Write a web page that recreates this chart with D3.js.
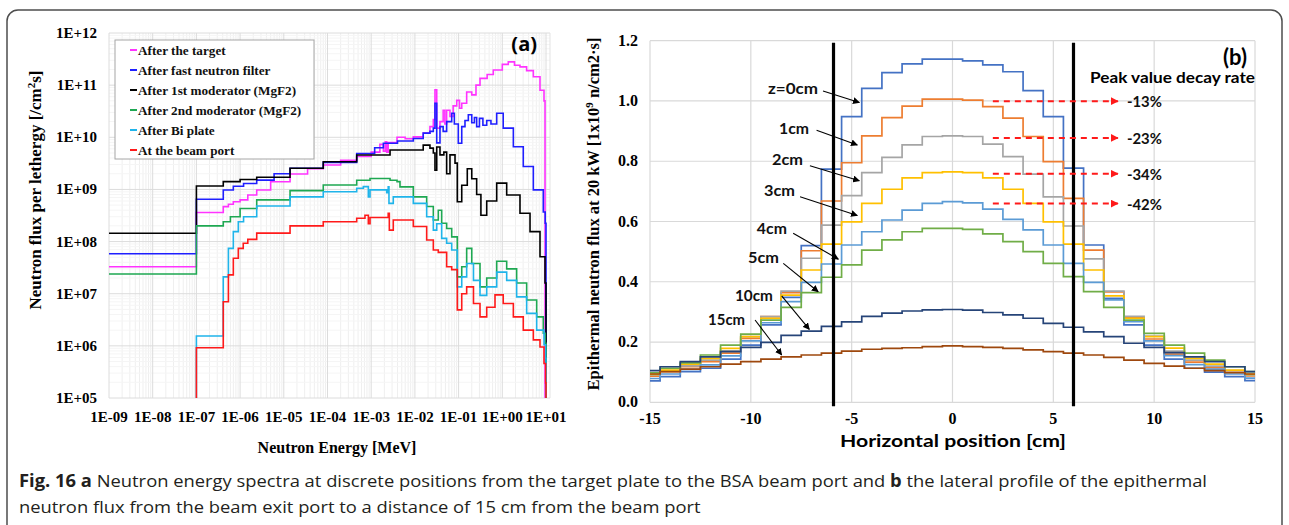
<!DOCTYPE html>
<html><head><meta charset="utf-8">
<script src="https://cdn.jsdelivr.net/npm/d3@7"></script>
<style>body{margin:0;background:#fff;} svg{display:block;}</style>
</head><body><svg id="c" width="1289" height="525"></svg>
<script>
// ================= Panel (a) data =================
const energyTicks = [1e-9,1e-8,1e-7,1e-6,1e-5,1e-4,1e-3,1e-2,1e-1,1e0,1e1];
const energyTickLabels = ["1E-09","1E-08","1E-07","1E-06","1E-05","1E-04","1E-03","1E-02","1E-01","1E+00","1E+01"];
const fluxTicks = [1e5,1e6,1e7,1e8,1e9,1e10,1e11,1e12];
const fluxTickLabels = ["1E+05","1E+06","1E+07","1E+08","1E+09","1E+10","1E+11","1E+12"];
const seriesNamesA = ["After the target","After fast neutron filter","After 1st moderator (MgF2)","After 2nd moderator (MgF2)","After Bi plate","At the beam port"];

// [energy MeV, flux /cm2s]
const afterTarget = [[1e-9,3.3e7],[1e-7,3.6e8],[4.12e-7,4.67e8],[5.4e-7,5.2e8],[7e-7,5.8e8],[1e-6,6.3e8],[1.5e-6,7.8e8],[2.4e-6,9.75e8],[5e-6,1.4e9],[1.39e-5,1.98e9],[3.5e-5,2.5e9],[8e-5,2.95e9],[2e-4,3.6e9],[4.66e-4,4.27e9],[1e-3,5.2e9],[1.58e-3,7.3e9],[1.9e-3,5.4e9],[2.1e-3,8.2e9],[2.26e-3,5.2e9],[2.45e-3,7.9e9],[3.9e-3,1.0e10],[6e-3,9.4e9],[9.2e-3,1.02e10],[0.0155,1.2e10],[0.0221,1.6e10],[0.0264,2.2e10],[0.0288,8.1e10],[0.0316,1.5e10],[0.0375,2.0e10],[0.0443,3.3e10],[0.0485,1.8e10],[0.0533,3.3e10],[0.0635,2.5e10],[0.075,4.0e10],[0.0906,5.1e10],[0.105,3.6e10],[0.118,4.5e10],[0.153,7.4e10],[0.2,6.5e10],[0.25,1.0e11],[0.309,1.35e11],[0.45,1.6e11],[0.622,1.95e11],[1.0,2.5e11],[1.37,2.8e11],[1.9,2.4e11],[2.54,2.24e11],[3.6,1.9e11],[5.13,1.45e11],[7.29,8e10],[9.0,5e10],[9.5,1e5]];
const afterFilter = [[1e-9,5.85e7],[1e-7,6.5e8],[4.12e-7,9.75e8],[7e-7,1.15e9],[1.2e-6,1.3e9],[2.4e-6,1.51e9],[6e-6,2.0e9],[1.39e-5,2.54e9],[8e-5,3.3e9],[4.66e-4,4.9e9],[1.2e-3,6.3e9],[1.9e-3,7.7e9],[4e-3,8.5e9],[9.2e-3,9.5e9],[0.0155,1.2e10],[0.0221,1.3e10],[0.0264,1.5e10],[0.0288,4.5e10],[0.0316,7.8e9],[0.0375,1.6e10],[0.0443,1.3e10],[0.0533,2.0e10],[0.0695,2.9e10],[0.08,1.8e10],[0.0984,7.7e9],[0.118,1.6e10],[0.14,2.1e10],[0.167,2.7e10],[0.2,1.9e10],[0.23,2.4e10],[0.259,1.6e10],[0.3,2.3e10],[0.36,1.7e10],[0.44,2.1e10],[0.55,1.8e10],[0.745,2.9e10],[1.05,1.5e10],[1.79,6.6e9],[3.02,2.75e9],[5.13,9.8e8],[8.67,3.7e8],[9.6,2.24e8],[10,1e5]];
const afterMod1 = [[1e-9,1.44e8],[1e-7,1.16e9],[4.12e-7,1.41e9],[1e-6,1.55e9],[2.4e-6,1.71e9],[1.39e-5,2.54e9],[8e-5,3.4e9],[4.66e-4,4.57e9],[2.7e-3,5.7e9],[0.0155,7.08e9],[0.0221,6.2e9],[0.0264,5.0e9],[0.0288,2.34e9],[0.0316,6.5e9],[0.0375,4.6e9],[0.046,5.2e9],[0.0533,2.0e9],[0.0635,4.6e9],[0.0828,3.2e9],[0.0933,5.8e8],[0.118,1.2e9],[0.158,2.5e9],[0.2,1.6e9],[0.259,8e8],[0.324,3.2e8],[0.44,6e8],[0.745,1.32e9],[1.26,7.8e8],[2.54,3.5e8],[4.31,1.55e8],[7.29,5.1e7],[9.49,1.6e7],[10,1e5]];
const afterMod2 = [[1e-9,2.39e7],[1e-7,2.0e8],[4.12e-7,2.4e8],[6e-7,3e8],[1e-6,4.3e8],[2.4e-6,6.3e8],[1.39e-5,9.5e8],[8e-5,1.22e9],[4.66e-4,1.5e9],[9.4e-4,1.62e9],[2.7e-3,1.5e9],[3.9e-3,1.41e9],[4.56e-3,1.12e9],[9.2e-3,7.2e8],[0.0186,4.7e8],[0.0264,2.6e8],[0.0343,4e8],[0.041,2.24e8],[0.0533,1.78e8],[0.0695,1.23e8],[0.0933,2.1e7],[0.118,3.3e7],[0.153,7.4e7],[0.2,3.8e7],[0.309,1.35e7],[0.44,2e7],[0.745,4.2e7],[1.26,3e7],[2.13,1.6e7],[3.61,7.6e6],[6.12,3.6e6],[8.67,1.74e6],[9.6,1.12e6],[10,1e5]];
const afterBi = [[1e-7,1e5],[1e-7,1.55e6],[4.12e-7,2.1e7],[5.4e-7,7.4e7],[7e-7,1.55e8],[9.1e-7,2.4e8],[1.2e-6,3e8],[2.4e-6,4.8e8],[1.39e-5,7.2e8],[8e-5,9.0e8],[4.66e-4,1.05e9],[6.6e-4,1.13e9],[8.6e-4,7.2e8],[9.4e-4,9.8e8],[2.26e-3,8.7e8],[2.45e-3,1.12e9],[2.55e-3,5.4e8],[3.2e-3,7.2e8],[9.2e-3,5.4e8],[0.0186,3.0e8],[0.0264,1.66e8],[0.0316,2.2e8],[0.041,1.15e8],[0.0533,9.3e7],[0.0695,6.9e7],[0.0933,1.35e7],[0.118,2.1e7],[0.153,3.8e7],[0.219,1.8e7],[0.309,9.3e6],[0.44,1.35e7],[0.745,2.6e7],[1.26,1.8e7],[2.13,8.7e6],[3.61,4.2e6],[6.12,2e6],[9.0,1.05e6],[9.8,5.8e5],[10,1e5]];
const beamPort = [[1e-7,1e5],[1e-7,9.2e5],[4.12e-7,7e6],[5.4e-7,2.3e7],[7e-7,4.8e7],[9.1e-7,7.4e7],[1.18e-6,9.3e7],[1.5e-6,1.1e8],[2.4e-6,1.45e8],[1.39e-5,2.0e8],[8e-5,2.4e8],[4.66e-4,2.8e8],[7.2e-4,3.2e8],[8.6e-4,2.2e8],[9.4e-4,2.9e8],[2.45e-3,3.5e8],[2.6e-3,1.66e8],[3.2e-3,2.6e8],[9.2e-3,1.95e8],[0.0186,1.07e8],[0.0264,6.9e7],[0.0343,6.2e7],[0.0533,3.3e7],[0.0695,2.9e7],[0.0933,4.9e6],[0.118,1.0e7],[0.153,1.35e7],[0.219,6.5e6],[0.309,3.6e6],[0.44,5.5e6],[0.681,9.5e6],[1.05,6.5e6],[1.79,3.6e6],[3.02,2e6],[5.13,1.3e6],[7.29,9.5e5],[9.0,4.6e5],[9.8,1.95e5],[10,1e5]];
const seriesA = [afterTarget, afterFilter, afterMod1, afterMod2, afterBi, beamPort];
const colorsA = ["#ff33ff","#1f1fff","#000000","#1ea852","#1fb4ea","#ff1a1a"];

// ================= Panel (b) data =================
const positions = d3.range(-15, 16); // -15 .. 15 cm
const positionTicks = [-15,-10,-5,0,5,10,15];
const profileTicks = [0,0.2,0.4,0.6,0.8,1.0,1.2];
const profileNames = ["z=0cm","1cm","2cm","3cm","4cm","5cm","10cm","15cm"];
const z0cm  = [0.071,0.085,0.102,0.113,0.143,0.190,0.257,0.348,0.520,0.774,0.948,1.042,1.094,1.123,1.139,1.139,1.133,1.120,1.097,1.034,0.948,0.777,0.522,0.345,0.257,0.190,0.143,0.113,0.100,0.085,0.072];
const z1cm  = [0.087,0.102,0.118,0.135,0.163,0.212,0.284,0.364,0.503,0.668,0.795,0.884,0.945,0.983,1.006,1.006,1.003,0.981,0.943,0.882,0.799,0.677,0.505,0.366,0.280,0.210,0.160,0.133,0.115,0.100,0.088];
const z2cm  = [0.090,0.105,0.121,0.140,0.171,0.218,0.284,0.369,0.478,0.588,0.686,0.762,0.813,0.854,0.882,0.884,0.882,0.857,0.815,0.757,0.682,0.585,0.476,0.369,0.285,0.220,0.170,0.140,0.120,0.105,0.090];
const z3cm  = [0.093,0.107,0.127,0.146,0.179,0.218,0.279,0.356,0.439,0.525,0.599,0.660,0.707,0.745,0.762,0.765,0.762,0.745,0.707,0.660,0.599,0.525,0.439,0.353,0.279,0.218,0.180,0.146,0.127,0.107,0.093];
const z4cm  = [0.079,0.094,0.109,0.124,0.154,0.204,0.264,0.334,0.398,0.459,0.522,0.566,0.605,0.638,0.660,0.666,0.662,0.641,0.607,0.572,0.522,0.461,0.398,0.340,0.268,0.204,0.155,0.125,0.110,0.094,0.080];
const z5cm  = [0.098,0.113,0.131,0.157,0.190,0.226,0.273,0.315,0.364,0.415,0.456,0.505,0.539,0.566,0.577,0.577,0.574,0.559,0.533,0.500,0.461,0.417,0.367,0.315,0.273,0.229,0.190,0.163,0.140,0.118,0.102];
const z10cm = [0.105,0.118,0.135,0.151,0.168,0.182,0.199,0.222,0.236,0.252,0.267,0.285,0.296,0.303,0.307,0.308,0.306,0.298,0.290,0.279,0.262,0.249,0.234,0.218,0.196,0.182,0.165,0.151,0.135,0.118,0.102];
const z15cm = [0.094,0.102,0.110,0.118,0.127,0.135,0.143,0.151,0.157,0.163,0.170,0.176,0.179,0.181,0.185,0.187,0.185,0.182,0.179,0.174,0.168,0.163,0.157,0.149,0.140,0.129,0.120,0.113,0.105,0.098,0.094];
const profiles = [z0cm, z1cm, z2cm, z3cm, z4cm, z5cm, z10cm, z15cm];
const colorsB = ["#4472c4","#ed7d31","#a5a5a5","#ffc000","#5b9bd5","#70ad47","#264478","#9e480e"];
const boundaryLines = [-5.9, 6];
const decayRates = ["-13%","-23%","-34%","-42%"]; // for 1,2,3,4 cm

// ================= Drawing =================
const svg = d3.select("#c");
const SERIF = "'Liberation Serif','Times New Roman',serif";
const SANS = "Lato,'Open Sans',sans-serif";

const defs = svg.append("defs");
defs.append("marker").attr("id","arrK").attr("viewBox","0 0 10 10").attr("refX",9).attr("refY",5)
  .attr("markerWidth",7).attr("markerHeight",7).attr("markerUnits","userSpaceOnUse").attr("orient","auto")
  .append("path").attr("d","M0,0 L10,5 L0,10 z").attr("fill","#000");
defs.append("marker").attr("id","arrR").attr("viewBox","0 0 10 10").attr("refX",9).attr("refY",5)
  .attr("markerWidth",8).attr("markerHeight",8).attr("markerUnits","userSpaceOnUse").attr("orient","auto")
  .append("path").attr("d","M0,0 L10,5 L0,10 z").attr("fill","#ff1a1a");

// Outer frame
svg.append("rect").attr("x",7).attr("y",10).attr("width",1275).attr("height",540).attr("rx",11)
  .attr("fill","none").attr("stroke","#4d4d4d").attr("stroke-width",1.5);

// ---------- Panel (a) ----------
const xA = d3.scaleLog().domain([1e-9,10]).range([109,546]);
const yA = d3.scaleLog().domain([1e5,1e12]).range([398,33]);
const gA = svg.append("g");
const minorE = [];
for (let d=-9; d<1; d++) for (let m=2;m<10;m++) minorE.push(m*Math.pow(10,d));
gA.selectAll(".mnx").data(minorE).join("line").attr("x1",d=>xA(d)).attr("x2",d=>xA(d))
  .attr("y1",yA(1e12)).attr("y2",yA(1e5)).attr("stroke","#efefef").attr("stroke-width",1);
const minorF = [];
for (let d=5; d<12; d++) for (let m=2;m<10;m++) minorF.push(m*Math.pow(10,d));
gA.selectAll(".mny").data(minorF).join("line").attr("y1",d=>yA(d)).attr("y2",d=>yA(d))
  .attr("x1",xA(1e-9)).attr("x2",550).attr("stroke","#f5f5f5").attr("stroke-width",1);
gA.selectAll(".mjx").data(energyTicks).join("line").attr("x1",d=>xA(d)).attr("x2",d=>xA(d))
  .attr("y1",yA(1e12)).attr("y2",yA(1e5)).attr("stroke","#dcdcdc").attr("stroke-width",1);
gA.selectAll(".mjy").data(fluxTicks).join("line").attr("y1",d=>yA(d)).attr("y2",d=>yA(d))
  .attr("x1",xA(1e-9)).attr("x2",550).attr("stroke","#dcdcdc").attr("stroke-width",1);
gA.append("line").attr("x1",550).attr("x2",550).attr("y1",yA(1e12)).attr("y2",yA(1e5)).attr("stroke","#e3e3e3");

const lineA = d3.line().x(d=>xA(d[0])).y(d=>yA(d[1])).curve(d3.curveStepAfter);
seriesA.forEach((s,i)=>{
  gA.append("path").attr("d",lineA(s)).attr("fill","none").attr("stroke",colorsA[i])
    .attr("stroke-width",1.6).attr("stroke-linejoin","miter");
});

// axes text
gA.selectAll(".xtl").data(energyTicks).join("text").attr("x",d=>xA(d)).attr("y",422)
  .attr("text-anchor","middle").attr("font-family",SERIF).attr("font-weight","bold").attr("font-size",15)
  .text((d,i)=>energyTickLabels[i]);
gA.selectAll(".ytl").data(fluxTicks).join("text").attr("x",97).attr("y",d=>yA(d)+5)
  .attr("text-anchor","end").attr("font-family",SERIF).attr("font-weight","bold").attr("font-size",15)
  .text((d,i)=>fluxTickLabels[i]);
gA.append("text").attr("x",337).attr("y",453).attr("text-anchor","middle").attr("font-family",SERIF)
  .attr("font-weight","bold").attr("font-size",16).text("Neutron Energy [MeV]");
const yta = gA.append("text").attr("transform","translate(41,190) rotate(-90)").attr("text-anchor","middle")
  .attr("font-family",SERIF).attr("font-weight","bold").attr("font-size",17);
yta.append("tspan").text("Neutron flux per lethergy [/cm");
yta.append("tspan").attr("dy",-6).attr("font-size",11).text("2");
yta.append("tspan").attr("dy",6).text("s]");
gA.append("text").attr("x",537).attr("y",51).attr("text-anchor","end").attr("font-family","'Open Sans',sans-serif")
  .attr("font-weight","bold").attr("font-size",20).text("(a)");

// legend
const lg = gA.append("g");
lg.append("rect").attr("x",115).attr("y",40).attr("width",199).attr("height",119)
  .attr("fill","#fff").attr("stroke","#a6a6a6").attr("stroke-width",1);
seriesNamesA.forEach((n,i)=>{
  const y = 50 + i*20;
  lg.append("line").attr("x1",130).attr("x2",137).attr("y1",y).attr("y2",y).attr("stroke",colorsA[i]).attr("stroke-width",2);
  lg.append("text").attr("x",138).attr("y",y+4.5).attr("font-family",SERIF).attr("font-weight","bold")
    .attr("font-size",13.2).attr("fill","#111").text(n);
});

// ---------- Panel (b) ----------
const xB = d3.scaleLinear().domain([-15,15]).range([650,1255]);
const yB = d3.scaleLinear().domain([0,1.2]).range([402.3,40.7]);
const gB = svg.append("g");
gB.selectAll(".gx").data(positionTicks).join("line").attr("x1",d=>xB(d)).attr("x2",d=>xB(d))
  .attr("y1",yB(1.2)).attr("y2",yB(0)).attr("stroke","#d9d9d9").attr("stroke-width",1.2);
gB.selectAll(".gy").data(profileTicks).join("line").attr("y1",d=>yB(d)).attr("y2",d=>yB(d))
  .attr("x1",xB(-15)).attr("x2",xB(15)).attr("stroke","#d9d9d9").attr("stroke-width",1.2);

const lineB = d3.line().x((d,i)=>xB(positions[i])).y(d=>yB(d)).curve(d3.curveStep);
profiles.forEach((p,i)=>{
  gB.append("path").attr("d",lineB(p)).attr("fill","none").attr("stroke",colorsB[i]).attr("stroke-width",1.7);
});
gB.selectAll(".bl").data(boundaryLines).join("line").attr("x1",d=>xB(d)).attr("x2",d=>xB(d))
  .attr("y1",yB(1.2)+2).attr("y2",yB(0)+4).attr("stroke","#000").attr("stroke-width",3.2);

gB.selectAll(".xtb").data(positionTicks).join("text").attr("x",d=>xB(d)).attr("y",424)
  .attr("text-anchor","middle").attr("font-family",SERIF).attr("font-weight","bold").attr("font-size",16).text(d=>d);
gB.selectAll(".ytb").data(profileTicks).join("text").attr("x",638).attr("y",d=>yB(d)+5)
  .attr("text-anchor","end").attr("font-family",SERIF).attr("font-weight","bold").attr("font-size",16).text(d=>d.toFixed(1));
gB.append("text").attr("x",953).attr("y",447).attr("text-anchor","middle").attr("font-family",SANS)
  .attr("font-weight","bold").attr("font-size",17.5).attr("textLength",226).attr("lengthAdjust","spacingAndGlyphs")
  .text("Horizontal position [cm]");
const ytb = gB.append("text").attr("transform","translate(599,214) rotate(-90)").attr("text-anchor","middle")
  .attr("font-family",SERIF).attr("font-weight","bold").attr("font-size",16.5);
ytb.append("tspan").text("Epithermal neutron flux at 20 kW [1x10");
ytb.append("tspan").attr("dy",-6).attr("font-size",11).text("9");
ytb.append("tspan").attr("dy",6).text(" n/cm2·s]");

gB.append("text").attr("x",1247).attr("y",65).attr("text-anchor","end").attr("font-family",SANS)
  .attr("font-weight","bold").attr("font-size",22).text("(b)");
gB.append("text").attr("x",1090).attr("y",83).attr("font-family",SANS).attr("font-weight","bold")
  .attr("font-size",15).attr("textLength",165).attr("lengthAdjust","spacingAndGlyphs").text("Peak value decay rate");

// curve labels with arrows (label anchor, arrow start, arrow end in data units)
const labelLayout = [
  {t:[-9.15,1.023], w:50, a:[-6.42,1.033], b:[-4.62,0.995]},
  {t:[-8.60,0.890], w:30, a:[-6.74,0.903], b:[-4.72,0.854]},
  {t:[-8.95,0.788], w:31, a:[-7.07,0.785], b:[-4.62,0.735]},
  {t:[-9.35,0.685], w:31, a:[-7.56,0.682], b:[-4.72,0.620]},
  {t:[-9.70,0.559], w:30, a:[-7.90,0.561], b:[-5.66,0.475]},
  {t:[-10.14,0.462], w:31, a:[-8.39,0.461], b:[-6.66,0.367]},
  {t:[-10.79,0.336], w:38, a:[-8.47,0.353], b:[-7.10,0.242]},
  {t:[-12.12,0.257], w:37, a:[-9.79,0.273], b:[-8.47,0.157]}
];
profileNames.forEach((n,i)=>{
  const L = labelLayout[i];
  gB.append("text").attr("x",xB(L.t[0])).attr("y",yB(L.t[1])).attr("font-family",SANS).attr("font-weight","bold")
    .attr("font-size",15).attr("textLength",L.w).attr("lengthAdjust","spacingAndGlyphs").attr("fill","#111").text(n);
  gB.append("line").attr("x1",xB(L.a[0])).attr("y1",yB(L.a[1])).attr("x2",xB(L.b[0])).attr("y2",yB(L.b[1]))
    .attr("stroke","#000").attr("stroke-width",1.1).attr("marker-end","url(#arrK)");
});
// decay-rate arrows at the peaks of 1..4 cm curves
decayRates.forEach((r,i)=>{
  const peak = d3.max(profiles[i+1]);
  const y = yB(peak) + 2;
  gB.append("line").attr("x1",xB(2)).attr("x2",xB(8.2)).attr("y1",y).attr("y2",y)
    .attr("stroke","#ff1a1a").attr("stroke-width",2).attr("stroke-dasharray","6,5").attr("marker-end","url(#arrR)");
  gB.append("text").attr("x",xB(8.65)).attr("y",y+6).attr("font-family",SANS).attr("font-weight","bold")
    .attr("font-size",15).attr("textLength",35).attr("lengthAdjust","spacingAndGlyphs").attr("fill","#111").text(r);
});

// ---------- Caption ----------
const CAP = "'Open Sans','Noto Sans',sans-serif";
const c1 = svg.append("text").attr("x",19).attr("y",487).attr("font-family",CAP).attr("font-size",17)
  .attr("fill","#231f20");
c1.append("tspan").attr("font-weight","bold").text("Fig. 16 ");
c1.append("tspan").attr("font-weight","bold").text(" a");
c1.append("tspan").text(" Neutron energy spectra at discrete positions from the target plate to the BSA beam port and ");
c1.append("tspan").attr("font-weight","bold").text("b");
c1.append("tspan").text(" the lateral profile of the epithermal");
const c2 = svg.append("text").attr("x",19).attr("y",513).attr("font-family",CAP).attr("font-size",17)
  .attr("fill","#231f20")
  .text("neutron flux from the beam exit port to a distance of 15 cm from the beam port");
const w1 = c1.node().getComputedTextLength();
const w2 = c2.node().getComputedTextLength();
const k = 1188 / w1;
c1.attr("textLength",1188).attr("lengthAdjust","spacingAndGlyphs");
c2.attr("textLength",w2*k).attr("lengthAdjust","spacingAndGlyphs");
</script></body></html>
